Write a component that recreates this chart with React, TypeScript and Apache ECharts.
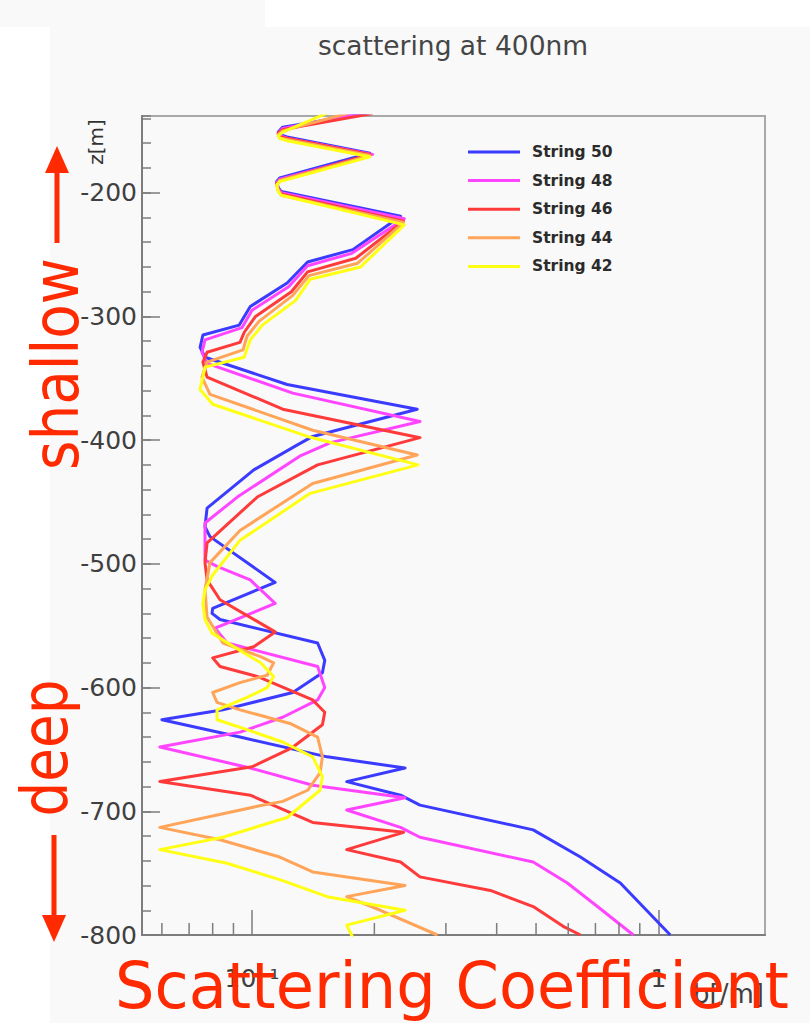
import React, { useEffect, useRef } from 'react';
import * as echarts from 'echarts';

// Depth range (z, metres) and scattering-coefficient range (b, 1/m)
const Z_MIN = -800;
const Z_MAX = -138;
const B_MIN = 0.0536;
const B_MAX = 1.83;

const Y_MAJOR_STEP = 100;
const Y_MINOR_STEP = 20;
const B_MINOR_TICKS = [0.06, 0.07, 0.08, 0.09, 0.2, 0.3, 0.4, 0.5, 0.6, 0.7, 0.8, 0.9];

const SERIES_NAMES = ['String 50', 'String 48', 'String 46', 'String 44', 'String 42'];
const SERIES_COLORS = ['#3b3bff', '#ff45ff', '#ff3a3a', '#ffa458', '#ffff14'];

// [b (1/m), z (m)] profiles along each string
const STRING_50 = [
  [0.198, -135], [0.119, -147], [0.116, -151], [0.117, -153], [0.122, -155], [0.195, -168],
  [0.117, -188], [0.115, -191], [0.116, -196], [0.118, -199], [0.232, -219], [0.177, -246],
  [0.137, -256], [0.122, -273], [0.099, -292], [0.093, -307], [0.0757, -315], [0.0745, -325],
  [0.0766, -333], [0.122, -355], [0.255, -375], [0.141, -397], [0.129, -404], [0.101, -424],
  [0.0775, -455], [0.0766, -470], [0.0788, -478], [0.114, -515], [0.08, -536], [0.0797, -540],
  [0.0834, -545], [0.145, -564], [0.151, -578], [0.149, -588], [0.126, -604], [0.0848, -618],
  [0.06, -626], [0.0934, -640], [0.153, -656], [0.238, -665], [0.171, -676], [0.232, -687],
  [0.259, -695], [0.492, -715], [0.643, -737], [0.806, -758], [1.07, -800],
];

const STRING_48 = [
  [0.19, -135], [0.119, -148], [0.116, -152], [0.117, -154], [0.122, -156], [0.198, -169],
  [0.117, -189], [0.115, -192], [0.116, -197], [0.118, -200], [0.237, -221], [0.176, -249],
  [0.137, -259], [0.123, -276], [0.1, -295], [0.0945, -309], [0.0766, -319], [0.0753, -329],
  [0.0775, -338], [0.126, -362], [0.259, -385], [0.156, -402], [0.131, -413], [0.092, -446],
  [0.0766, -467], [0.0766, -497], [0.082, -502], [0.099, -513], [0.114, -532], [0.0811, -552],
  [0.0868, -564], [0.145, -583], [0.151, -600], [0.145, -610], [0.119, -624], [0.0934, -636],
  [0.0593, -648], [0.099, -665], [0.141, -679], [0.238, -689], [0.171, -699], [0.232, -713],
  [0.259, -721], [0.492, -741], [0.597, -758], [0.708, -777], [0.868, -800],
];

const STRING_46 = [
  [0.198, -136], [0.119, -149], [0.116, -152], [0.117, -155], [0.122, -156], [0.195, -169],
  [0.117, -190], [0.115, -193], [0.116, -198], [0.118, -201], [0.236, -223], [0.18, -253],
  [0.137, -264], [0.125, -280], [0.102, -300], [0.0956, -313], [0.0934, -321], [0.0775, -329],
  [0.0757, -337], [0.0775, -349], [0.119, -375], [0.259, -398], [0.145, -420], [0.103, -446],
  [0.0775, -483], [0.0766, -499], [0.0775, -513], [0.0834, -529], [0.114, -555], [0.101, -567],
  [0.08, -576], [0.0834, -583], [0.103, -591], [0.141, -610], [0.151, -620], [0.149, -630],
  [0.125, -649], [0.1, -664], [0.0593, -676], [0.099, -687], [0.141, -709], [0.236, -717],
  [0.171, -731], [0.232, -741], [0.259, -753], [0.386, -764], [0.492, -777], [0.583, -793],
  [0.643, -800],
];

const STRING_44 = [
  [0.176, -135], [0.119, -150], [0.116, -153], [0.117, -156], [0.122, -157], [0.195, -170],
  [0.117, -190], [0.115, -194], [0.116, -198], [0.118, -202], [0.236, -224], [0.182, -257],
  [0.138, -267], [0.126, -283], [0.104, -304], [0.0972, -316], [0.095, -327], [0.0775, -337],
  [0.0753, -349], [0.0788, -363], [0.141, -392], [0.255, -412], [0.141, -435], [0.0934, -473],
  [0.0788, -499], [0.0766, -521], [0.0775, -543], [0.0848, -564], [0.105, -575], [0.113, -580],
  [0.109, -590], [0.0934, -596], [0.08, -604], [0.082, -612], [0.0934, -618], [0.124, -629],
  [0.145, -640], [0.149, -656], [0.147, -669], [0.137, -683], [0.119, -692], [0.103, -696],
  [0.0593, -713], [0.0834, -723], [0.117, -737], [0.141, -749], [0.238, -760], [0.171, -769],
  [0.207, -780], [0.286, -800],
];

const STRING_42 = [
  [0.156, -134.5], [0.119, -151], [0.116, -154], [0.117, -156], [0.122, -158], [0.195, -171],
  [0.117, -191], [0.115, -194], [0.116, -199], [0.118, -202], [0.237, -226], [0.185, -260],
  [0.139, -270], [0.128, -287], [0.106, -307], [0.099, -319], [0.0956, -333], [0.0766, -341],
  [0.0745, -359], [0.08, -371], [0.137, -397], [0.256, -420], [0.139, -443], [0.0934, -481],
  [0.08, -509], [0.0766, -521], [0.0757, -532], [0.0766, -545], [0.0797, -556], [0.0934, -570],
  [0.105, -580], [0.113, -591], [0.109, -600], [0.0972, -608], [0.082, -618], [0.082, -626],
  [0.0972, -634], [0.119, -644], [0.141, -656], [0.149, -672], [0.147, -683], [0.122, -705],
  [0.0848, -721], [0.0593, -731], [0.0868, -742], [0.119, -756], [0.153, -769], [0.238, -780],
  [0.171, -792], [0.177, -802],
];

const PROFILES = [STRING_50, STRING_48, STRING_46, STRING_44, STRING_42];

const FONT = 'DejaVu Sans';
const AXIS_GREY = '#7d7d7d';
const NOTE_RED = '#ff2a00';

function formatB(v: number): string {
  if (Math.abs(v - 0.1) < 1e-9) return '10\u207B\u00B9';
  if (Math.abs(v - 1) < 1e-9) return '1';
  return '';
}

export default function App() {
  const ref = useRef<HTMLDivElement>(null);

  useEffect(() => {
    if (!ref.current) return;
    const chart = echarts.init(ref.current, undefined, { renderer: 'svg' });

    const lineSeries = PROFILES.map((data, i) => ({
      type: 'line',
      name: SERIES_NAMES[i],
      data,
      symbol: 'none',
      smooth: false,
      clip: true,
      z: 2,
      lineStyle: { color: SERIES_COLORS[i], width: 3, join: 'round' },
      itemStyle: { color: SERIES_COLORS[i] },
    }));

    chart.setOption({
      animation: false,
      backgroundColor: '#f9f9f9',
      textStyle: { fontFamily: FONT },
      grid: {
        left: 142,
        right: 45,
        top: 116,
        bottom: 88,
        show: true,
        borderColor: '#a8a8a8',
        borderWidth: 2,
        backgroundColor: 'transparent',
      },
      legend: {
        data: SERIES_NAMES,
        orient: 'vertical',
        left: 468,
        top: 142,
        padding: 0,
        itemWidth: 52,
        itemHeight: 3,
        itemGap: 8.6,
        icon: 'rect',
        textStyle: {
          fontFamily: FONT,
          fontWeight: 'bold',
          fontSize: 15.5,
          color: '#2b2b2b',
          lineHeight: 20,
          padding: [0, 0, 0, 7],
        },
      },
      xAxis: {
        type: 'log',
        logBase: 10,
        min: B_MIN,
        max: B_MAX,
        axisLine: { show: true, lineStyle: { color: AXIS_GREY, width: 2 } },
        axisTick: { show: true, inside: true, length: 25, lineStyle: { color: AXIS_GREY, width: 1.5 } },
        axisLabel: {
          formatter: formatB,
          margin: 31,
          fontSize: 25,
          fontFamily: FONT,
          color: '#404040',
          showMinLabel: false,
          showMaxLabel: false,
        },
        splitLine: { show: false },
      },
      yAxis: [
        {
          type: 'value',
          min: Z_MIN,
          max: Z_MAX,
          interval: Y_MAJOR_STEP,
          axisLine: { show: true, lineStyle: { color: AXIS_GREY, width: 2 } },
          axisTick: { show: true, inside: true, length: 18, lineStyle: { color: AXIS_GREY, width: 1.5 } },
          axisLabel: {
            margin: 5,
            fontSize: 25,
            fontFamily: FONT,
            color: '#404040',
            showMaxLabel: false,
          },
          splitLine: { show: false },
        },
        {
          type: 'value',
          position: 'left',
          min: Z_MIN,
          max: Z_MAX,
          interval: Y_MINOR_STEP,
          axisLine: { show: false },
          axisTick: { show: true, inside: true, length: 9, lineStyle: { color: AXIS_GREY, width: 1.5 } },
          axisLabel: { show: false },
          splitLine: { show: false },
        },
      ],
      series: [
        ...lineSeries,
        {
          type: 'custom',
          name: 'minor ticks',
          silent: true,
          clip: false,
          z: 3,
          data: B_MINOR_TICKS.map((b) => [b, Z_MIN]),
          renderItem: (_params: any, api: any) => {
            const p = api.coord([api.value(0), api.value(1)]);
            return {
              type: 'line',
              shape: { x1: p[0], y1: p[1], x2: p[0], y2: p[1] - 12 },
              style: { stroke: AXIS_GREY, lineWidth: 1.5 },
            };
          },
        },
      ],
      graphic: [
        { type: 'rect', z: -10, shape: { x: 265, y: 0, width: 545, height: 27 }, style: { fill: '#ffffff' } },
        { type: 'rect', z: -10, shape: { x: 0, y: 27, width: 50, height: 996 }, style: { fill: '#ffffff' } },
        {
          type: 'text',
          x: 453,
          y: 45,
          style: {
            text: 'scattering at 400nm',
            fontFamily: FONT,
            fontSize: 26.5,
            fill: '#454545',
            align: 'center',
            verticalAlign: 'middle',
          },
        },
        {
          type: 'text',
          x: 96,
          y: 142,
          rotation: Math.PI / 2,
          style: {
            text: 'z[m]',
            fontFamily: FONT,
            fontSize: 20,
            fill: '#333333',
            align: 'center',
            verticalAlign: 'middle',
          },
        },
        {
          type: 'text',
          x: 764,
          y: 994,
          style: {
            text: 'b[/m]',
            fontFamily: FONT,
            fontSize: 26,
            fill: '#404040',
            align: 'right',
            verticalAlign: 'middle',
          },
        },
        // annotations
        {
          type: 'text',
          x: 56,
          y: 364,
          rotation: Math.PI / 2,
          scaleX: 0.883,
          z: 20,
          style: {
            text: 'shallow',
            fontFamily: FONT,
            fontSize: 64,
            fill: NOTE_RED,
            align: 'center',
            verticalAlign: 'middle',
          },
        },
        {
          type: 'text',
          x: 45,
          y: 748,
          rotation: Math.PI / 2,
          scaleX: 0.856,
          z: 20,
          style: {
            text: 'deep',
            fontFamily: FONT,
            fontSize: 64,
            fill: NOTE_RED,
            align: 'center',
            verticalAlign: 'middle',
          },
        },
        {
          type: 'text',
          x: 452,
          y: 986,
          scaleX: 0.972,
          z: 20,
          style: {
            text: 'Scattering Coefficient',
            fontFamily: FONT,
            fontSize: 64,
            fill: NOTE_RED,
            align: 'center',
            verticalAlign: 'middle',
          },
        },
        { type: 'line', z: 20, shape: { x1: 57, y1: 243, x2: 57, y2: 168 }, style: { stroke: NOTE_RED, lineWidth: 5 } },
        { type: 'polygon', z: 20, shape: { points: [[57, 146], [45, 173], [69, 173]] }, style: { fill: NOTE_RED } },
        { type: 'line', z: 20, shape: { x1: 54, y1: 835, x2: 54, y2: 920 }, style: { stroke: NOTE_RED, lineWidth: 5 } },
        { type: 'polygon', z: 20, shape: { points: [[54, 942], [42, 915], [66, 915]] }, style: { fill: NOTE_RED } },
      ],
    });

    return () => chart.dispose();
  }, []);

  return (
    <div
      ref={ref}
      style={{ position: 'absolute', left: 0, top: 0, width: 810, height: 1023 }}
    />
  );
}
